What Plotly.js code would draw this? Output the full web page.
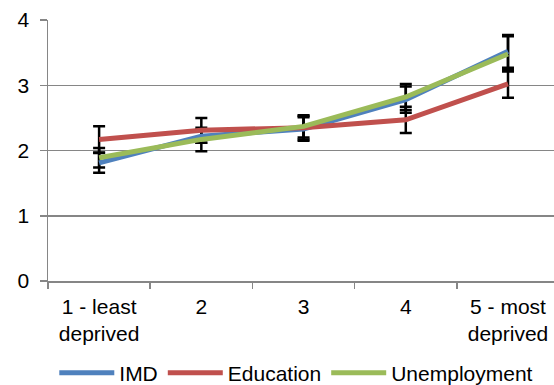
<!DOCTYPE html>
<html>
<head>
<meta charset="utf-8">
<script src="https://cdn.plot.ly/plotly-3.0.1.min.js"></script>
<style>html,body{margin:0;padding:0;background:#fff;}#chart{width:554px;height:385px;}</style>
</head>
<body>
<div id="chart"></div>
<script>
var categories = ['1 - least<br>deprived', '2', '3', '4', '5 - most<br>deprived'];
var imd = [1.81, 2.22, 2.33, 2.78, 3.52];
var education = [2.17, 2.31, 2.35, 2.47, 3.02];
var unemployment = [1.89, 2.17, 2.37, 2.82, 3.48];
var imdErr = [0.15, 0.10, 0.18, 0.20, 0.25];
var educationErr = [0.20, 0.19, 0.18, 0.20, 0.21];
var unemploymentErr = [0.15, 0.18, 0.17, 0.20, 0.27];
var yTicks = [0, 1, 2, 3, 4];

var seriesNames = ['IMD', 'Education', 'Unemployment'];
var seriesVals = [imd, education, unemployment];
var seriesErr = [imdErr, educationErr, unemploymentErr];
var colors = ['#4F81BD', '#C0504D', '#9BBB59'];

var traces = [];
for (var i = 0; i < 3; i++) {
  traces.push({
    x: categories, y: seriesVals[i], type: 'scatter', mode: 'markers',
    marker: {size: 1, color: 'rgba(0,0,0,0)'},
    error_y: {type: 'data', array: seriesErr[i], visible: true, color: '#000000', thickness: 2.5, width: 6},
    showlegend: false, hoverinfo: 'skip'
  });
}
for (var j = 0; j < 3; j++) {
  traces.push({
    x: categories, y: seriesVals[j], type: 'scatter', mode: 'lines', name: seriesNames[j],
    line: {color: colors[j], width: 5}
  });
}

var layout = {
  width: 554, height: 385,
  margin: {l: 48, r: 0, t: 20, b: 104, pad: 0, autoexpand: false},
  paper_bgcolor: '#ffffff', plot_bgcolor: '#ffffff',
  font: {family: 'Liberation Sans, Arial, sans-serif', size: 21, color: '#000000'},
  showlegend: true,
  legend: {orientation: 'h', xref: 'container', yref: 'container',
           x: 0.098, xanchor: 'left', y: 0.031, yanchor: 'middle',
           font: {size: 21, color: '#000000'}, itemwidth: 55, tracegroupgap: 0},
  xaxis: {
    type: 'category', range: [-0.5, 4.45], tickson: 'boundaries',
    showgrid: false, zeroline: false, showline: true, linecolor: '#868686', linewidth: 1.5,
    ticks: 'outside', ticklen: 6, tickcolor: '#868686', tickwidth: 1.5,
    tickfont: {size: 21, color: '#000000'}, ticklabelstandoff: 6, fixedrange: true
  },
  yaxis: {
    range: [0, 4], tickvals: yTicks, ticktext: yTicks.map(String),
    showgrid: true, gridcolor: '#868686', gridwidth: 1.5, zeroline: false,
    showline: true, linecolor: '#868686', linewidth: 1.5,
    ticks: 'outside', ticklen: 7, tickcolor: '#868686', tickwidth: 1.5,
    tickfont: {size: 21, color: '#000000'}, ticklabelstandoff: 6, fixedrange: true
  }
};

Plotly.newPlot('chart', traces, layout, {displayModeBar: false, staticPlot: true});
</script>
</body>
</html>
